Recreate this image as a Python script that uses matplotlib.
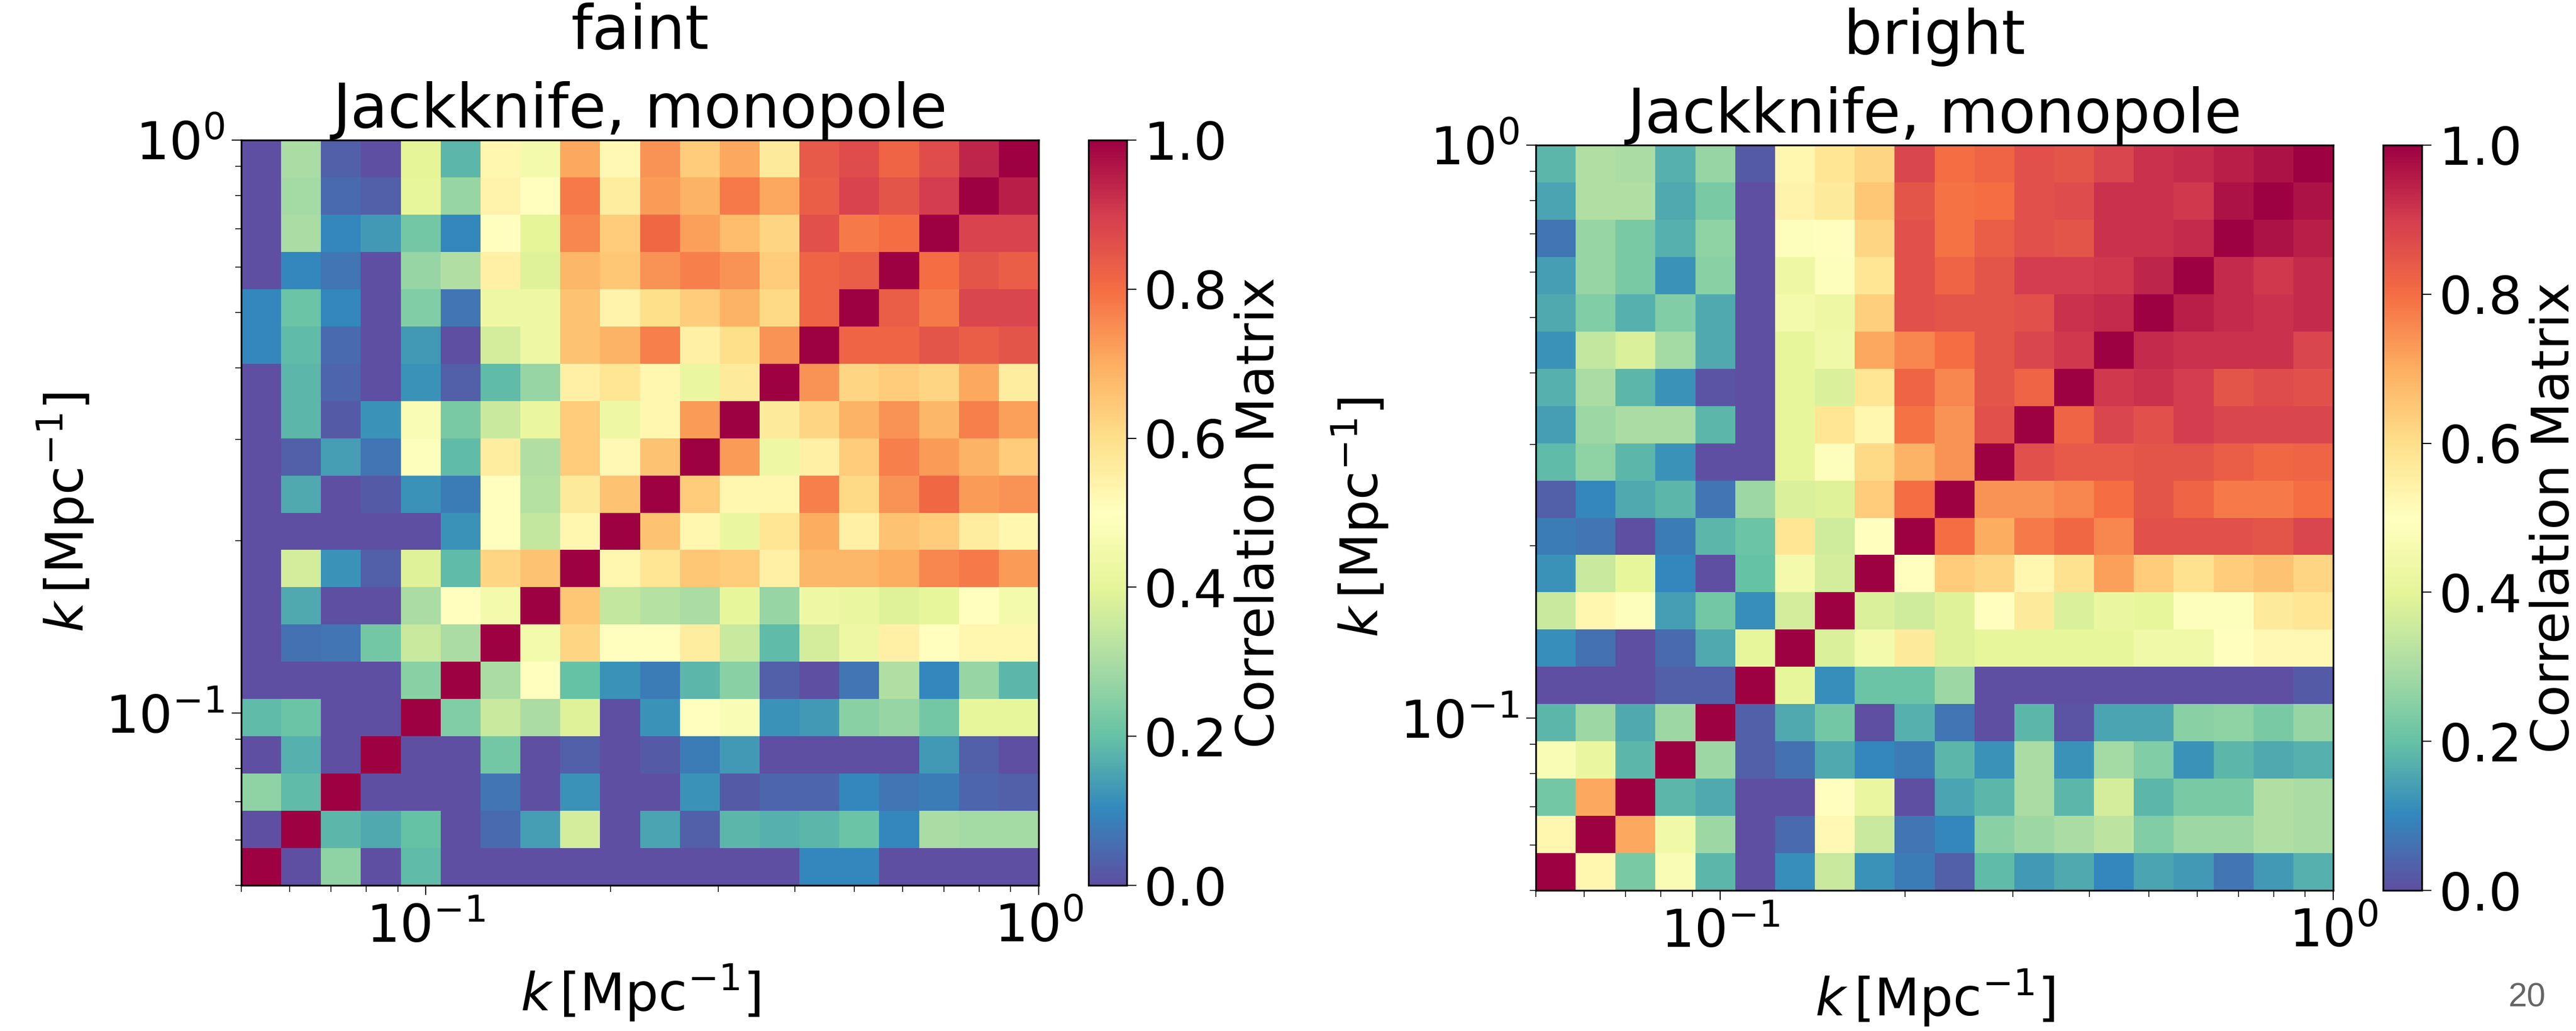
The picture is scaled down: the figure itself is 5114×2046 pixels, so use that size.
import numpy as np
import matplotlib
matplotlib.use("Agg")
import matplotlib.pyplot as plt
from matplotlib.ticker import LogLocator, NullFormatter, LogFormatterMathtext

# ---------------- data ----------------
k_min, k_max, n_bins = 0.05, 1.0, 20
titles = ["faint\nJackknife, monopole", "bright\nJackknife, monopole"]
cbar_label = "Correlation Matrix"
axis_label = r"$k\,[\mathrm{Mpc}^{-1}]$"
cbar_ticks = [0.0, 0.2, 0.4, 0.6, 0.8, 1.0]
page_number = "20"

# rows: lowest k first (bottom of image)
corr_faint = [
    [1.0, 0, 0.26, 0, 0.19, 0, 0, 0, 0, 0, 0, 0, 0, 0, 0.1, 0.1, 0, 0, 0, 0],
    [0, 1.0, 0.18, 0.16, 0.2, 0, 0.05, 0.14, 0.37, 0, 0.15, 0.03, 0.18, 0.17, 0.18, 0.21, 0.1, 0.3, 0.29, 0.29],
    [0.26, 0.19, 1.0, 0, 0, 0, 0.07, 0, 0.12, 0, 0, 0.12, 0.02, 0.04, 0.04, 0.1, 0.07, 0.08, 0.04, 0.03],
    [0, 0.17, 0, 1.0, 0, 0, 0.22, 0, 0.03, 0, 0.02, 0.08, 0.13, 0, 0, 0, 0, 0.13, 0.03, 0],
    [0.19, 0.21, 0, 0, 1.0, 0.24, 0.35, 0.3, 0.39, 0, 0.12, 0.5, 0.47, 0.12, 0.13, 0.25, 0.27, 0.22, 0.41, 0.41],
    [0, 0, 0, 0, 0.25, 1.0, 0.3, 0.5, 0.2, 0.12, 0.08, 0.18, 0.25, 0.03, 0, 0.07, 0.31, 0.1, 0.27, 0.18],
    [0, 0.06, 0.07, 0.22, 0.35, 0.3, 1.0, 0.45, 0.62, 0.5, 0.5, 0.56, 0.35, 0.19, 0.37, 0.43, 0.55, 0.5, 0.53, 0.53],
    [0, 0.16, 0, 0, 0.3, 0.5, 0.45, 1.0, 0.65, 0.34, 0.32, 0.3, 0.41, 0.27, 0.43, 0.42, 0.39, 0.41, 0.5, 0.45],
    [0, 0.37, 0.12, 0.03, 0.39, 0.19, 0.62, 0.66, 1.0, 0.53, 0.58, 0.65, 0.64, 0.55, 0.68, 0.68, 0.7, 0.76, 0.78, 0.73],
    [0, 0, 0, 0, 0, 0.12, 0.5, 0.34, 0.53, 1.0, 0.66, 0.53, 0.42, 0.58, 0.7, 0.55, 0.66, 0.64, 0.56, 0.53],
    [0, 0.16, 0, 0.02, 0.12, 0.08, 0.5, 0.32, 0.57, 0.66, 1.0, 0.64, 0.53, 0.53, 0.77, 0.61, 0.74, 0.81, 0.73, 0.74],
    [0, 0.03, 0.14, 0.07, 0.49, 0.19, 0.56, 0.31, 0.64, 0.52, 0.66, 1.0, 0.73, 0.43, 0.55, 0.64, 0.77, 0.73, 0.69, 0.64],
    [0, 0.18, 0.02, 0.12, 0.47, 0.23, 0.35, 0.42, 0.64, 0.43, 0.53, 0.73, 1.0, 0.57, 0.62, 0.69, 0.74, 0.68, 0.77, 0.72],
    [0, 0.18, 0.04, 0, 0.12, 0.03, 0.19, 0.27, 0.55, 0.58, 0.53, 0.42, 0.57, 1.0, 0.74, 0.62, 0.64, 0.62, 0.71, 0.56],
    [0.1, 0.19, 0.05, 0, 0.13, 0, 0.37, 0.43, 0.66, 0.69, 0.77, 0.55, 0.6, 0.74, 1.0, 0.82, 0.82, 0.85, 0.83, 0.85],
    [0.1, 0.21, 0.1, 0, 0.24, 0.07, 0.43, 0.43, 0.66, 0.54, 0.6, 0.64, 0.69, 0.61, 0.82, 1.0, 0.83, 0.78, 0.88, 0.88],
    [0, 0.1, 0.07, 0, 0.27, 0.31, 0.55, 0.39, 0.68, 0.65, 0.74, 0.77, 0.74, 0.64, 0.82, 0.83, 1.0, 0.8, 0.85, 0.83],
    [0, 0.3, 0.1, 0.13, 0.22, 0.1, 0.5, 0.4, 0.76, 0.64, 0.81, 0.72, 0.67, 0.62, 0.86, 0.78, 0.8, 1.0, 0.89, 0.89],
    [0, 0.29, 0.05, 0.03, 0.41, 0.27, 0.54, 0.5, 0.78, 0.56, 0.73, 0.69, 0.78, 0.71, 0.83, 0.89, 0.85, 0.9, 1.0, 0.95],
    [0, 0.3, 0.03, 0, 0.4, 0.18, 0.53, 0.45, 0.71, 0.52, 0.74, 0.64, 0.71, 0.57, 0.84, 0.87, 0.82, 0.87, 0.94, 1.0],
]

corr_bright = [
    [1.0, 0.53, 0.23, 0.47, 0.18, 0, 0.11, 0.35, 0.12, 0.08, 0.03, 0.19, 0.13, 0.16, 0.1, 0.15, 0.13, 0.07, 0.13, 0.17],
    [0.53, 1.0, 0.71, 0.44, 0.28, 0, 0.05, 0.52, 0.35, 0.07, 0.1, 0.25, 0.28, 0.3, 0.33, 0.24, 0.28, 0.28, 0.31, 0.3],
    [0.22, 0.71, 1.0, 0.18, 0.16, 0, 0, 0.5, 0.42, 0, 0.15, 0.18, 0.3, 0.18, 0.37, 0.18, 0.23, 0.23, 0.31, 0.3],
    [0.47, 0.42, 0.18, 1.0, 0.28, 0.03, 0.06, 0.16, 0.1, 0.08, 0.18, 0.12, 0.3, 0.12, 0.29, 0.24, 0.12, 0.18, 0.16, 0.17],
    [0.18, 0.28, 0.16, 0.28, 1.0, 0.03, 0.16, 0.22, 0, 0.17, 0.07, 0, 0.18, 0.01, 0.15, 0.15, 0.25, 0.26, 0.23, 0.27],
    [0, 0, 0, 0.03, 0.03, 1.0, 0.41, 0.11, 0.21, 0.21, 0.28, 0, 0, 0, 0, 0, 0, 0, 0, 0.02],
    [0.11, 0.06, 0, 0.05, 0.16, 0.41, 1.0, 0.38, 0.45, 0.57, 0.39, 0.41, 0.41, 0.41, 0.41, 0.44, 0.44, 0.5, 0.52, 0.52],
    [0.35, 0.53, 0.49, 0.14, 0.22, 0.11, 0.37, 1.0, 0.38, 0.36, 0.39, 0.5, 0.57, 0.38, 0.42, 0.41, 0.49, 0.49, 0.57, 0.58],
    [0.12, 0.35, 0.41, 0.1, 0, 0.2, 0.45, 0.37, 1.0, 0.5, 0.64, 0.62, 0.53, 0.59, 0.72, 0.64, 0.59, 0.64, 0.66, 0.62],
    [0.08, 0.07, 0, 0.08, 0.18, 0.21, 0.58, 0.36, 0.5, 1.0, 0.8, 0.7, 0.78, 0.81, 0.76, 0.86, 0.86, 0.86, 0.85, 0.88],
    [0.03, 0.1, 0.16, 0.18, 0.07, 0.28, 0.38, 0.39, 0.64, 0.8, 1.0, 0.74, 0.74, 0.76, 0.8, 0.85, 0.82, 0.78, 0.78, 0.8],
    [0.19, 0.26, 0.18, 0.12, 0, 0, 0.41, 0.49, 0.61, 0.69, 0.74, 1.0, 0.86, 0.84, 0.84, 0.85, 0.85, 0.83, 0.81, 0.82],
    [0.14, 0.28, 0.3, 0.3, 0.18, 0, 0.41, 0.58, 0.53, 0.79, 0.74, 0.86, 1.0, 0.82, 0.88, 0.86, 0.9, 0.88, 0.88, 0.88],
    [0.17, 0.3, 0.18, 0.12, 0.01, 0, 0.41, 0.38, 0.58, 0.82, 0.76, 0.85, 0.82, 1.0, 0.91, 0.92, 0.9, 0.85, 0.87, 0.86],
    [0.12, 0.34, 0.38, 0.29, 0.16, 0, 0.41, 0.44, 0.71, 0.76, 0.8, 0.85, 0.88, 0.91, 1.0, 0.93, 0.92, 0.92, 0.92, 0.88],
    [0.16, 0.24, 0.17, 0.24, 0.16, 0, 0.45, 0.43, 0.63, 0.86, 0.85, 0.85, 0.86, 0.92, 0.93, 1.0, 0.95, 0.93, 0.92, 0.93],
    [0.14, 0.27, 0.23, 0.12, 0.25, 0, 0.43, 0.49, 0.58, 0.86, 0.82, 0.85, 0.9, 0.9, 0.91, 0.94, 1.0, 0.93, 0.91, 0.93],
    [0.07, 0.27, 0.23, 0.17, 0.26, 0, 0.49, 0.5, 0.62, 0.86, 0.79, 0.83, 0.86, 0.85, 0.92, 0.92, 0.93, 1.0, 0.97, 0.95],
    [0.15, 0.31, 0.31, 0.16, 0.23, 0, 0.54, 0.57, 0.65, 0.85, 0.79, 0.8, 0.86, 0.87, 0.92, 0.92, 0.91, 0.97, 1.0, 0.97],
    [0.18, 0.31, 0.3, 0.17, 0.27, 0.02, 0.53, 0.58, 0.62, 0.88, 0.8, 0.82, 0.86, 0.85, 0.88, 0.92, 0.93, 0.95, 0.97, 1.0],
]

# ---------------- figure ----------------
W, H = 5114, 2046
fig = plt.figure(figsize=(W / 100, H / 100), dpi=100)

TICK_FS = 75
TITLE_FS = 87

def frac(x0, y0, x1, y1):
    return [x0 / W, 1 - y1 / H, (x1 - x0) / W, (y1 - y0) / H]

panels = [
    dict(ax=frac(479, 278, 2062, 1757), cax=frac(2161, 278, 2237, 1757),
         data=corr_faint, title=titles[0]),
    dict(ax=frac(3049, 288, 4632, 1767), cax=frac(4731, 288, 4808, 1767),
         data=corr_bright, title=titles[1]),
]

edges = np.logspace(np.log10(k_min), np.log10(k_max), n_bins + 1)

for p in panels:
    ax = fig.add_axes(p["ax"])
    mesh = ax.pcolormesh(edges, edges, np.array(p["data"]), cmap="Spectral_r",
                         vmin=0, vmax=1, shading="flat")
    ax.set_xscale("log")
    ax.set_yscale("log")
    ax.set_xlim(k_min, k_max)
    ax.set_ylim(k_min, k_max)
    for axis in (ax.xaxis, ax.yaxis):
        axis.set_major_locator(LogLocator(base=10, numticks=10))
        axis.set_major_formatter(LogFormatterMathtext())
        axis.set_minor_locator(LogLocator(base=10, subs=np.arange(2, 10), numticks=20))
        axis.set_minor_formatter(NullFormatter())
    ax.tick_params(which="major", length=14, width=1.6, labelsize=TICK_FS, pad=10)
    ax.tick_params(which="minor", length=9, width=1.2)
    for s in ax.spines.values():
        s.set_linewidth(2.5)
    ax.set_title(p["title"], fontsize=TITLE_FS, pad=6, linespacing=1.42)
    ax.set_xlabel(axis_label, fontsize=TICK_FS, labelpad=14)
    ax.set_ylabel(axis_label, fontsize=TICK_FS, labelpad=14)

    cax = fig.add_axes(p["cax"])
    cb = fig.colorbar(mesh, cax=cax, ticks=cbar_ticks)
    cb.ax.set_yticklabels([f"{t:.1f}" for t in cbar_ticks])
    cb.ax.tick_params(length=14, width=1.6, labelsize=TICK_FS, pad=10)
    cb.outline.set_linewidth(2.5)
    cb.set_label(cbar_label, fontsize=TICK_FS, labelpad=10)

fig.text(5017 / W, 1 - 1981 / H, page_number, fontsize=48, color="#666666",
         family=["Liberation Sans", "DejaVu Sans"], ha="center", va="center")

fig.savefig("out.png", dpi=100)
